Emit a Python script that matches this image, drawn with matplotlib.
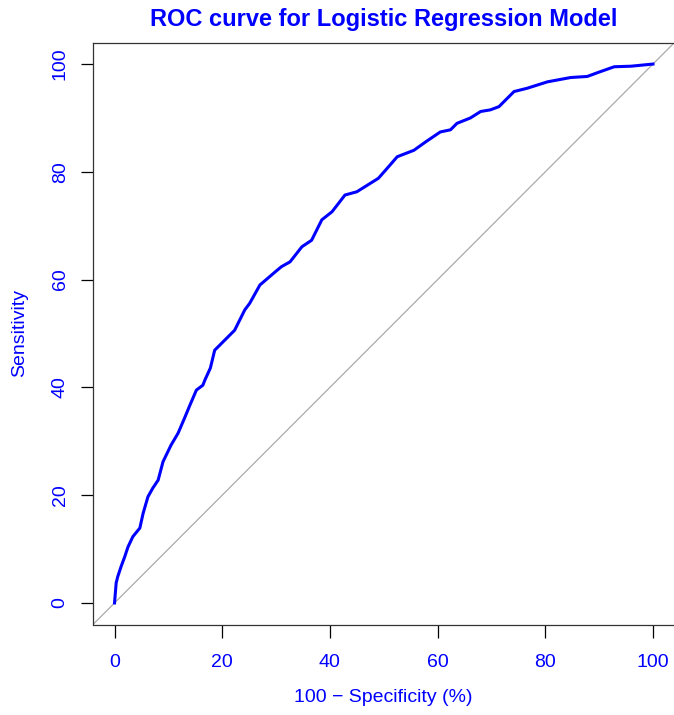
import matplotlib
matplotlib.use("Agg")
import matplotlib.pyplot as plt

plt.rcParams['font.family'] = ['Liberation Sans', 'DejaVu Sans']

title = "ROC curve for Logistic Regression Model"
xlabel = "100 \u2212 Specificity (%)"
ylabel = "Sensitivity"
xticks = [0, 20, 40, 60, 80, 100]
yticks = [0, 20, 40, 60, 80, 100]

fpr = [0, 0.3, 0.6, 1.2, 1.9, 2.5, 3.4, 4.7, 5.3, 6.2, 7.1, 8.1, 9.0, 10.5, 11.8,
       13.0, 14.0, 15.2, 16.4, 16.8, 17.8, 18.6, 19.9, 22.3, 24.2, 25.1, 27.0, 29.8,
       31.0, 32.6, 34.8, 36.6, 38.5, 40.4, 42.8, 45.0, 49.0, 51.2, 52.5, 55.6,
       57.7, 60.5, 62.4, 63.6, 66.1, 68.0, 69.8, 71.4, 73.6, 74.2, 76.6, 80.4,
       84.7, 87.8, 89.7, 92.8, 95.9, 100]
tpr = [0, 3.7, 4.9, 6.7, 8.6, 10.4, 12.3, 13.9, 16.6, 19.7, 21.3, 22.8, 26.2,
       29.3, 31.5, 34.3, 36.7, 39.5, 40.4, 41.4, 43.6, 46.9, 48.2, 50.6, 54.4, 55.6,
       59.0, 61.4, 62.4, 63.3, 66.1, 67.3, 71.1, 72.6, 75.7, 76.3, 78.8, 81.3,
       82.8, 84.0, 85.5, 87.4, 87.8, 89.0, 90.0, 91.2, 91.5, 92.1, 94.3, 94.9,
       95.5, 96.7, 97.5, 97.7, 98.4, 99.5, 99.6, 100]
diag = [-4, 104]

W, H = 674, 715
fig = plt.figure(figsize=(W / 100, H / 100), dpi=100)
L, R, T, B = 93, 674.5, 42.5, 624.5
ax = fig.add_axes([L / W, 1 - B / H, (R - L) / W, (B - T) / H])

ax.plot(diag, diag, color='#AAAAAA', lw=0.9, zorder=1)
ax.plot(fpr, tpr, color='#0000FF', lw=2.2, zorder=2, solid_joinstyle='round')

ax.set_xlim(-4, 104)
ax.set_ylim(-4, 104)
ax.set_xticks(xticks)
ax.set_yticks(yticks)
ax.set_xticklabels([str(v) for v in xticks])
ax.set_yticklabels([str(v) for v in yticks], rotation=90, va='center')
ax.tick_params(axis='both', direction='out', length=9, width=0.9, color='black',
               labelcolor='#0000FF', labelsize=14)
ax.tick_params(axis='x', pad=12.5)
ax.tick_params(axis='y', pad=8.5)
for s in ax.spines.values():
    s.set_color('#333333')
    s.set_linewidth(0.9)

fig.text(383.5 / W, 1 - 26 / H, title, ha='center', va='baseline',
         fontsize=17, fontweight='bold', color='#0000FF')
fig.text(383.5 / W, 1 - 698 / H, xlabel, ha='center', va='center',
         fontsize=14, color='#0000FF')
fig.text(20 / W, 1 - 333 / H, ylabel, ha='center', va='center', rotation=90,
         fontsize=14, color='#0000FF')

fig.savefig("out.png", dpi=100)
